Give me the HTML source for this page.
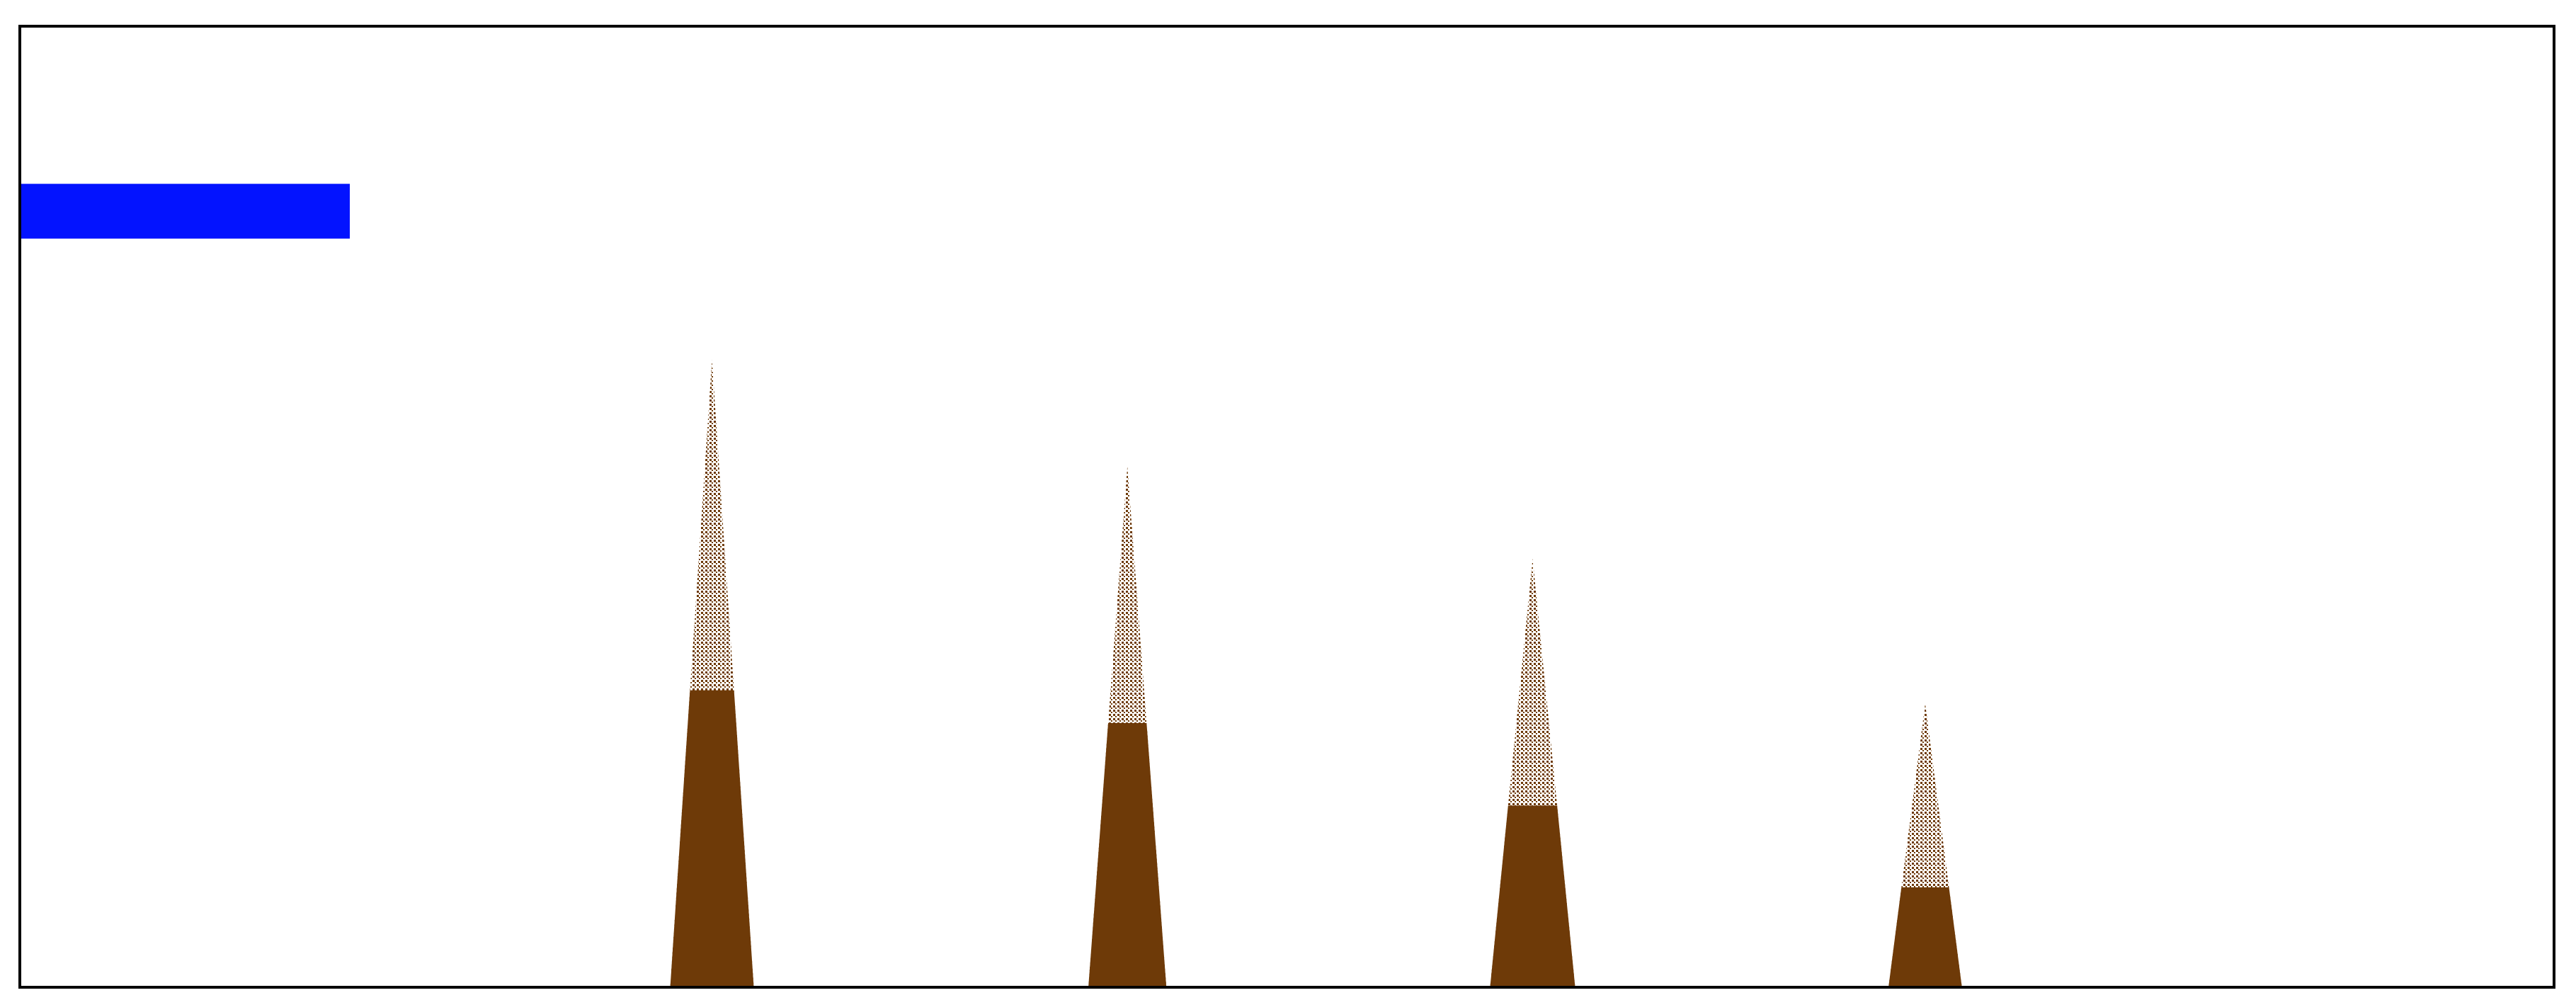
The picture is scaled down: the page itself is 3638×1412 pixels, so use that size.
<!DOCTYPE html>
<html><head><meta charset="utf-8"><style>
html,body{margin:0;padding:0;background:#fff;}
svg{display:block;}
</style></head><body>
<svg id="chart" width="3638" height="1412" xmlns="http://www.w3.org/2000/svg">
<defs>
<pattern id="tex" width="6" height="6" patternUnits="userSpaceOnUse">
<rect width="6" height="6" fill="#fff"/>
<rect x="0" y="0" width="3" height="3" fill="#6e3a08"/>
<rect x="3" y="3" width="2" height="2" fill="#6e3a08"/>
</pattern>
</defs>
<g id="marks"></g>
<rect x="28" y="37" width="3579" height="1357" fill="none" stroke="#000" stroke-width="4"/>
</svg>
<script>
const spikeCenters = [27.3, 43.7, 59.7, 75.2];
const spikeHalfWidths = [1.65, 1.54, 1.68, 1.45];
const spikePeaks = [65.3, 54.2, 44.6, 29.5];
const spikeSolid = [30.9, 27.5, 18.9, 10.4];
const barX = [0, 13.0];
const barY = [77.9, 83.6];

const X0 = 29, X1 = 3606, Y0 = 1394, Y1 = 37;
function xs(v){ return X0 + (X1 - X0) * v / 100; }
function ys(v){ return Y0 - (Y0 - Y1) * v / 100; }
const NS = 'http://www.w3.org/2000/svg';
const g = document.getElementById('marks');

const bar = document.createElementNS(NS, 'rect');


bar.setAttribute('x', xs(barX[0]));
bar.setAttribute('width', xs(barX[1]) - xs(barX[0]));
bar.setAttribute('y', ys(barY[1]));
bar.setAttribute('height', ys(barY[0]) - ys(barY[1]));
bar.setAttribute('fill', '#0313ff');
g.appendChild(bar);

spikeCenters.forEach((c, i) => {
  const hw = spikeHalfWidths[i], pk = spikePeaks[i], sd = spikeSolid[i];
  const l = xs(c - hw), r = xs(c + hw), cx = xs(c);
  const tri = document.createElementNS(NS, 'polygon');
  
  
  tri.setAttribute('points', `${l},${ys(0)} ${cx},${ys(pk)} ${r},${ys(0)}`);
  tri.setAttribute('fill', 'url(#tex)');
  g.appendChild(tri);
  const f = 1 - sd / pk;
  const sl = xs(c - hw * f), sr = xs(c + hw * f);
  const solid = document.createElementNS(NS, 'polygon');
  
  
  solid.setAttribute('points', `${l},${ys(0)} ${sl},${ys(sd)} ${sr},${ys(sd)} ${r},${ys(0)}`);
  solid.setAttribute('fill', '#6e3a08');
  g.appendChild(solid);
});
</script>
</body></html>
